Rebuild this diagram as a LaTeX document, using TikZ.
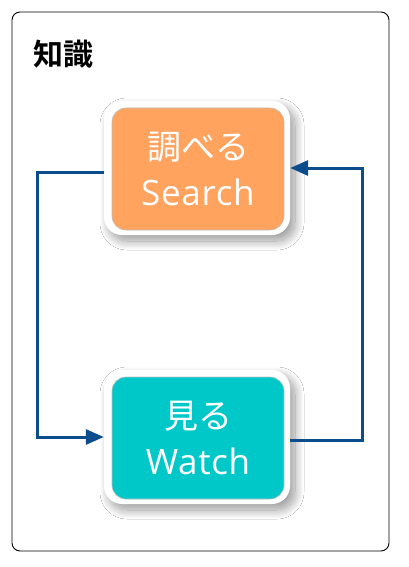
\documentclass[tikz,border=0pt]{standalone}
\usepackage{fontspec}
\setmainfont{Noto Sans CJK JP}
\newfontfamily\jpbold{Noto Sans CJK JP Bold}
\newfontfamily\latinfont[LetterSpace=2]{Open Sans}
\usetikzlibrary{arrows.meta,shadows.blur}
\definecolor{orangebox}{HTML}{FFA35F}
\definecolor{tealbox}{HTML}{00C8C8}
\definecolor{flowblue}{HTML}{0A4C8C}
\tikzset{
  frame/.style={draw=black,line width=0.9pt,rounded corners=8pt},
  whitebox/.style={fill=white,rounded corners=18pt,minimum width=186pt,minimum height=134pt,
    blur shadow={shadow xshift=5pt,shadow yshift=-6pt,shadow blur steps=20,shadow blur radius=9pt,shadow opacity=40}},
  innerbox/.style={draw=black!25,line width=0.6pt,rounded corners=14pt,minimum width=172pt,minimum height=122pt,
    text=white,font=\fontsize{34}{46}\selectfont,align=center},
  flow/.style={draw=flowblue,line width=3pt,-{Triangle[length=18pt,width=15pt]}},
}
\newcommand{\lat}[1]{{\latinfont\fontsize{35}{46}\selectfont #1}}
\begin{document}
\begin{tikzpicture}[x=1pt,y=-1pt]
\useasboundingbox (0,0) rectangle (409,567);
\fill[white] (0,0) rectangle (409,567);
\draw[frame] (12,12) rectangle (389,551);
\node[font=\jpbold\fontsize{30}{32}\selectfont,anchor=west] (title) at (30,54) {知識};
\node[whitebox] (search) at (197,168) {};
\node[innerbox,fill=orangebox] (searchin) at (198,169) {調べる\\\lat{Search}};
\node[whitebox] (watch) at (197,437) {};
\node[innerbox,fill=tealbox] (watchin) at (198,438) {見る\\\lat{Watch}};
\coordinate (l1) at (37,172);
\coordinate (r1) at (362,171);
\draw[flow] ([yshift=-4pt]search.west) -- ([yshift=-4pt]search.west -| l1) -- (l1 |- watch.west) -- (watch.west);
\draw[flow] ([yshift=-3pt]watch.east) -- ([yshift=-3pt]watch.east -| r1) -- (r1 |- search.east) -- (search.east);
\end{tikzpicture}
\end{document}
